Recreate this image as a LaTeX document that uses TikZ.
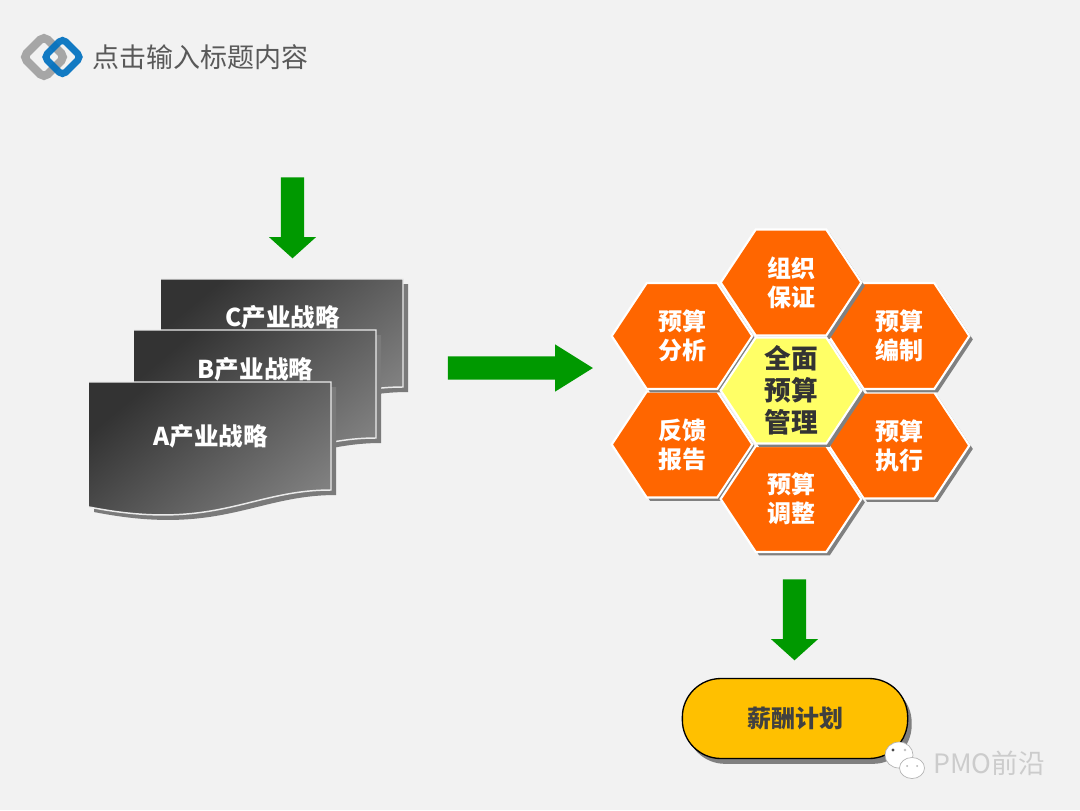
\documentclass[tikz,border=0pt]{standalone}
\usepackage{fontspec}
\setmainfont{Noto Sans CJK SC}
\usepackage{xcolor}
\definecolor{pagebg}{RGB}{242,242,242}
\definecolor{hexorange}{RGB}{255,102,0}
\definecolor{hexyellow}{RGB}{255,255,102}
\definecolor{planyellow}{RGB}{255,192,0}
\definecolor{arrowgreen}{RGB}{0,153,0}
\definecolor{logoblue}{RGB}{0,112,192}
\definecolor{logogray}{RGB}{166,166,166}
\usetikzlibrary{arrows.meta,shapes.arrows,shapes.symbols,shadows,positioning}
\tikzset{
  hexcell/.style={signal,signal to=west and east,signal pointer angle=113,
                  draw=white,line width=1.6pt,fill=hexorange,inner sep=0pt,outer sep=0pt,
                  minimum width=105.5pt,minimum height=79.5pt,align=center,text=white,
                  font=\fontsize{18}{21.75}\selectfont\bfseries,
                  drop shadow={shadow xshift=2.6pt,shadow yshift=-2.6pt,fill=black!50,opacity=1}},
  hexcore/.style={hexcell,fill=hexyellow,text=black!80,
                  font=\fontsize{20}{24}\selectfont\bfseries},
  blockarrow/.style={single arrow,fill=arrowgreen,draw=none,inner xsep=0pt,inner ysep=8.6pt,outer sep=0pt,
                     minimum width=35pt,single arrow head extend=8.9pt},
  sheettext/.style={text=white,font=\fontsize{18.4}{22}\selectfont\bfseries},
  planbox/.style={rectangle,rounded corners=29pt,draw=black,line width=1pt,fill=planyellow,
                  minimum width=169pt,minimum height=60pt,text=black!75,
                  font=\fontsize{18}{22}\selectfont\bfseries,
                  drop shadow={shadow xshift=3pt,shadow yshift=-4pt,fill=black!50,opacity=1}},
  bubble/.style={draw=black!30,line width=0.5pt,fill=white},
}
\def\sheetoutline{(0,0) -- (242,0) -- (242,108) .. controls (161,108) and (126,150) .. (0,125)}
\begin{document}
\begin{tikzpicture}[x=0.75pt,y=-0.75pt]
  \fill[pagebg] (0,0) rectangle (1080,810);
  \useasboundingbox (0,0) rectangle (1080,810);

  % logo and title
  \draw[logogray,line width=6.2pt,rounded corners=4pt] (44,36) -- (65,57) -- (44,78) -- (23,57) -- cycle;
  \draw[logoblue,opacity=0.92,line width=5.2pt,rounded corners=3.5pt] (62.5,38.5) -- (81,57) -- (62.5,75.5) -- (44,57) -- cycle;
  \node[anchor=west,inner sep=0pt,text=black!65,font=\fontsize{20.25}{24}\selectfont] (title) at (92.5,57) {点击输入标题内容};

  % stacked sheets
  \foreach \n/\x/\y/\ty/\t in {c/161/279/38/C,b/134/330/39/B,a/89/382/54/A}{
    \begin{scope}[shift={(\x,\y)}]
      \fill[black!52,shift={(5,5)}] \sheetoutline -- cycle;
      \shade[top color=black!80,bottom color=black!50,shading angle=40] \sheetoutline -- cycle;
      \draw[black!8,line width=1.1pt] \sheetoutline;
      \node[sheettext] (sheet\n) at (121.5,\ty) {{\t}产业战略};
    \end{scope}
  }

  % arrows
  \node[blockarrow,rotate=-90,minimum height=60.75pt,single arrow tip angle=96] (arrowin) at (292.5,212.5) {};
  \node[blockarrow,minimum height=108.75pt,single arrow tip angle=64] (arrowmid) at (511,368) {};
  \node[blockarrow,rotate=-90,minimum height=60.75pt,single arrow tip angle=96] (arrowout) at (794.5,614.5) {};

  % hexagons
  \node[hexcell] (hexrun) at (899,445.5) {预算\\执行};
  \node[hexcell] (hexback) at (682,444.5) {反馈\\报告};
  \node[hexcell] (hexplan) at (899,336) {预算\\编制};
  \node[hexcell] (hexana) at (682,336) {预算\\分析};
  \node[hexcell] (hexorg) at (791,282.5) {组织\\保证};
  \node[hexcell] (hexadj) at (791,499) {预算\\调整};
  \node[hexcore] (hexcentre) at (791,390.5) {全面\\预算\\管理};

  % plan
  \node[planbox] (plan) at (795,718.5) {薪酬计划};

  % watermark
  \draw[bubble] (899,755) ellipse (14 and 13);
  \fill[black!70] (893,750) circle (1.6);
  \fill[black!25] (905,750) circle (1.4);
  \draw[bubble] (912,768) ellipse (12.5 and 10.5);
  \fill[black!30] (907,766) circle (1);
  \fill[black!30] (917,766) circle (1);
  \node[anchor=west,inner sep=0pt,text=black!20,font=\fontsize{20}{24}\selectfont] (mark) at (933,763) {PMO前沿};
\end{tikzpicture}
\end{document}
